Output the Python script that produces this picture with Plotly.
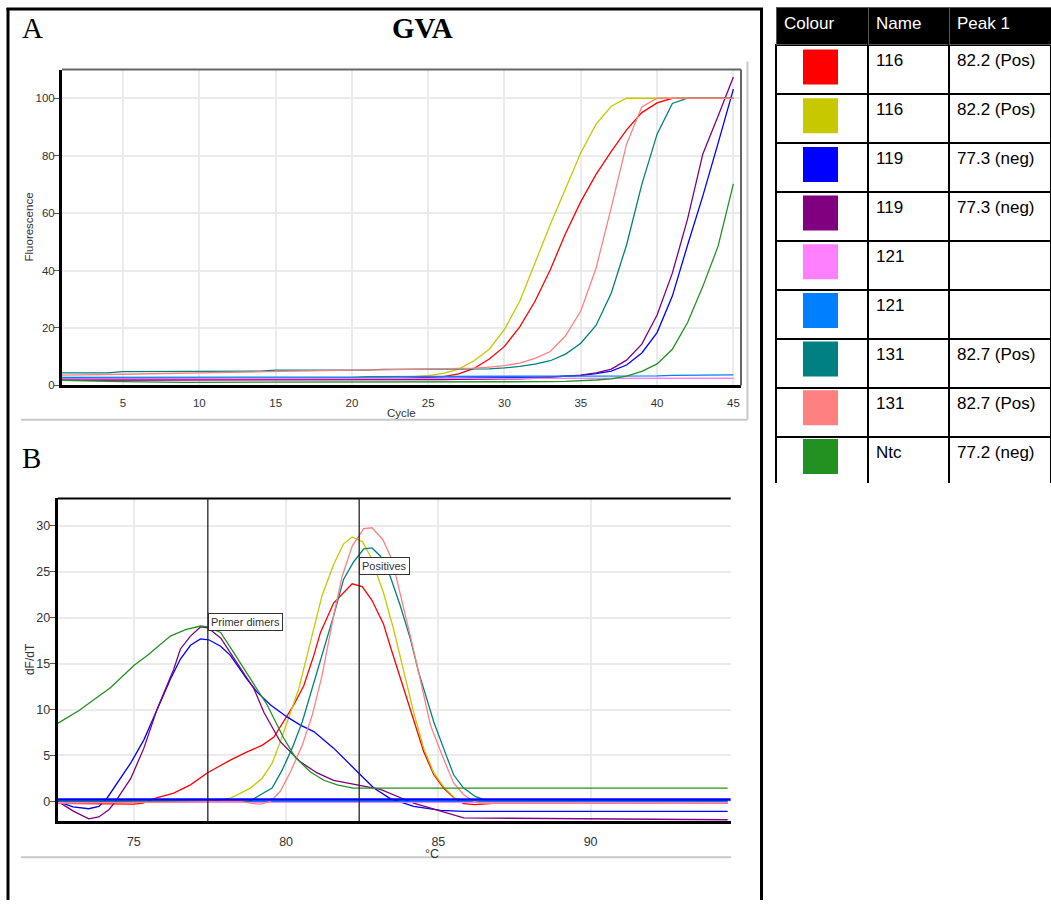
import plotly.graph_objects as go

# ---------------- data ----------------
sample_names = ["116", "116", "119", "119", "121", "121", "131", "131", "Ntc"]
peak_calls = ["82.2 (Pos)", "82.2 (Pos)", "77.3 (neg)", "77.3 (neg)", "", "",
              "82.7 (Pos)", "82.7 (Pos)", "77.2 (neg)"]
colours = ["#ff0000", "#c8c800", "#0000ff", "#800080", "#ff80ff", "#0080ff",
           "#008080", "#ff8080", "#229122"]

cycles = list(range(1, 46))
amp_116_red = [2.1, 2.1, 2.1, 2.1, 2.1, 2.1, 2.1, 2.1, 2.1, 2.1,
               2.2, 2.2, 2.2, 2.2, 2.2, 2.2, 2.2, 2.2, 2.2, 2.2,
               2.3, 2.3, 2.4, 2.5, 2.8, 3.1, 4.0, 5.9, 9.2, 13.6,
               20.4, 29.3, 40.3, 52.9, 64.0, 73.5, 81.5, 89.0, 95.0, 98.4,
               100, 100, 100, 100, 100]
amp_116_yellow = [2.5, 2.5, 2.5, 2.5, 2.5, 2.5, 2.5, 2.5, 2.5, 2.5,
                  2.6, 2.6, 2.6, 2.6, 2.6, 2.6, 2.6, 2.6, 2.6, 2.6,
                  2.7, 2.8, 2.9, 3.1, 3.4, 4.2, 5.7, 8.6, 12.6, 19.5,
                  29.3, 43.0, 56.0, 68.5, 81.0, 91.0, 97.2, 100, 100, 100,
                  100, 100, 100, 100, 100]
amp_119_blue = [2.3, 2.3, 2.3, 2.3, 2.3, 2.3, 2.3, 2.3, 2.3, 2.3,
                2.3, 2.3, 2.3, 2.3, 2.3, 2.3, 2.3, 2.3, 2.3, 2.3,
                2.4, 2.4, 2.4, 2.5, 2.5, 2.5, 2.5, 2.6, 2.6, 2.6,
                2.7, 2.8, 3.0, 3.2, 3.5, 4.1, 5.0, 7.1, 11.3, 18.4,
                31.1, 48.9, 66.0, 84.4, 103.2]
amp_119_purple = [1.8, 1.8, 1.8, 1.8, 1.8, 1.8, 1.8, 1.8, 1.8, 1.8,
                  1.8, 1.8, 1.8, 1.8, 1.8, 1.8, 1.8, 1.8, 1.8, 1.8,
                  1.9, 1.9, 1.9, 2.0, 2.0, 2.0, 2.1, 2.1, 2.2, 2.2,
                  2.3, 2.5, 2.8, 3.1, 3.6, 4.4, 5.7, 8.8, 14.4, 24.5,
                  39.1, 58.0, 80.6, 93.8, 107.4]
amp_121_pink = [2.3, 2.3, 2.3, 2.3, 2.3, 2.3, 2.3, 2.3, 2.3, 2.3,
                2.3, 2.3, 2.3, 2.3, 2.3, 2.4, 2.4, 2.4, 2.4, 2.4,
                2.4, 2.4, 2.4, 2.4, 2.4, 2.4, 2.4, 2.4, 2.4, 2.4,
                2.5, 2.5, 2.5, 2.5, 2.5, 2.5, 2.5, 2.5, 2.5, 2.5,
                2.5, 2.5, 2.5, 2.5, 2.5]
amp_121_lightblue = [2.8, 2.8, 2.8, 2.8, 2.8, 2.8, 2.8, 2.8, 2.8, 2.8,
                     2.9, 2.9, 2.9, 2.9, 2.9, 2.9, 2.9, 2.9, 2.9, 2.9,
                     3.1, 3.1, 3.1, 3.1, 3.1, 3.1, 3.1, 3.1, 3.1, 3.1,
                     3.3, 3.3, 3.3, 3.3, 3.3, 3.3, 3.3, 3.3, 3.3, 3.3,
                     3.5, 3.5, 3.6, 3.6, 3.7]
amp_131_teal = [4.4, 4.4, 4.4, 4.4, 4.8, 4.8, 4.8, 4.8, 5.0, 5.0,
                5.0, 5.0, 5.0, 5.0, 5.3, 5.3, 5.3, 5.3, 5.3, 5.3,
                5.3, 5.6, 5.6, 5.6, 5.6, 5.6, 5.6, 5.6, 5.8, 6.1,
                6.6, 7.4, 8.6, 10.9, 14.7, 20.9, 32.2, 48.9, 70.0, 87.5,
                98.2, 100, 100, 100, 100]
amp_131_salmon = [3.6, 3.6, 3.7, 3.8, 3.9, 4.0, 4.1, 4.2, 4.3, 4.4,
                  4.5, 4.6, 4.7, 4.8, 5.0, 5.1, 5.2, 5.3, 5.3, 5.4,
                  5.4, 5.4, 5.5, 5.5, 5.5, 5.6, 5.8, 6.0, 6.4, 6.9,
                  7.8, 9.4, 11.8, 17.3, 25.9, 40.8, 62.0, 84.0, 97.0, 100,
                  100, 100, 100, 100, 100]
amp_ntc_green = [1.8, 1.6, 1.5, 1.4, 1.3, 1.2, 1.2, 1.1, 1.1, 1.1,
                 1.1, 1.1, 1.1, 1.1, 1.1, 1.1, 1.1, 1.1, 1.1, 1.1,
                 1.1, 1.1, 1.1, 1.1, 1.1, 1.1, 1.1, 1.1, 1.1, 1.2,
                 1.2, 1.2, 1.3, 1.4, 1.6, 1.9, 2.3, 3.2, 4.9, 7.5,
                 12.6, 21.9, 34.5, 48.5, 70.2]
amp_series = [amp_116_red, amp_116_yellow, amp_119_blue, amp_119_purple,
              amp_121_pink, amp_121_lightblue, amp_131_teal, amp_131_salmon,
              amp_ntc_green]

# melt curves: temperature (°C) and dF/dT per sample
melt_116_red_t = [72.5, 75.0, 75.3, 75.77, 76.31, 76.86, 77.41, 78.17, 78.72, 79.21, 79.6,
                  79.92, 80.25, 80.58, 80.91, 81.13, 81.56, 82.17, 82.5, 82.82, 83.2,
                  83.42, 83.73, 84.19, 84.52, 84.85, 85.17, 85.5, 85.83, 86.21, 86.8, 94.5]
melt_116_red_v = [-0.2, -0.3, -0.2, 0.4, 0.9, 1.8, 3.1, 4.5, 5.4, 6.1, 7.0,
                  8.7, 10.5, 12.6, 15.9, 18.4, 21.6, 23.7, 23.4, 21.9, 19.3,
                  16.9, 13.7, 8.7, 5.4, 2.9, 1.45, 0.43, -0.25, -0.36, -0.2, -0.2]
melt_116_yellow_t = [72.5, 77.5, 78.17, 78.83, 79.21, 79.54, 79.81, 80.14, 80.42, 80.69,
                     81.18, 81.56, 81.89, 82.17, 82.5, 82.77, 83.2, 83.53, 83.9, 84.19,
                     84.52, 84.85, 85.17, 85.56, 86.0, 94.5]
melt_116_yellow_v = [0.0, 0.0, 0.36, 1.45, 2.5, 4.15, 6.5, 9.7, 12.3, 15.9,
                     22.4, 25.8, 28.05, 28.8, 28.3, 26.7, 22.7, 18.75, 13.7, 9.7,
                     5.8, 3.1, 1.6, 0.3, 0.0, 0.0]
melt_119_blue_t = [72.5, 73.0, 73.52, 73.85, 74.13, 74.46, 74.9, 75.33, 75.77, 76.2,
                   76.53, 76.86, 77.19, 77.46, 77.85, 78.17, 78.72, 79.05, 79.49, 80.03,
                   80.47, 80.91, 81.56, 82.0, 82.38, 82.88, 83.42, 84.19, 85.07, 85.83, 94.5]
melt_119_blue_v = [0.0, -0.6, -0.8, -0.55, 0.4, 2.0, 4.2, 6.7, 10.0, 13.3,
                   15.5, 17.0, 17.7, 17.6, 16.9, 15.9, 13.3, 11.9, 10.5, 9.2,
                   8.3, 7.6, 5.8, 4.3, 3.1, 1.45, 0.3, -0.54, -0.97, -1.08, -1.08]
melt_119_purple_t = [72.5, 73.03, 73.52, 73.85, 74.18, 74.4, 74.9, 75.33, 75.77, 76.31,
                     76.53, 76.86, 77.19, 77.43, 77.85, 78.28, 78.94, 79.27, 79.81, 80.47,
                     81.02, 81.56, 82.33, 83.1, 84.19, 85.07, 85.83, 94.5]
melt_119_purple_v = [0.0, -1.08, -1.9, -1.7, -0.9, 0.0, 2.5, 5.8, 10.1, 14.4,
                     16.6, 18.0, 19.0, 18.9, 17.8, 15.6, 12.3, 9.7, 6.5, 4.3,
                     3.1, 2.3, 1.8, 1.3, -0.2, -1.1, -1.8, -2.0]
melt_121_pink_t = [72.5, 94.5]
melt_121_pink_v = [-0.1, -0.1]
melt_121_lightblue_t = [72.5, 94.5]
melt_121_lightblue_v = [0.0, 0.0]
melt_131_teal_t = [72.5, 78.8, 79.16, 79.54, 79.87, 80.2, 80.53, 80.86, 81.18, 81.56,
                   81.89, 82.22, 82.55, 82.82, 83.1, 83.42, 83.75, 84.08, 84.35, 84.85,
                   85.17, 85.5, 85.83, 86.21, 86.5, 94.5]
melt_131_teal_v = [0.0, 0.0, 0.72, 1.45, 3.4, 5.8, 8.65, 12.3, 15.9, 20.2,
                   24.2, 26.1, 27.5, 27.6, 26.7, 24.5, 21.3, 17.7, 14.1, 8.65,
                   5.8, 2.9, 1.45, 0.54, 0.2, 0.1]
melt_131_salmon_t = [72.5, 76.0, 78.5, 78.83, 79.16, 79.49, 79.81, 80.14, 80.53, 80.86,
                     81.18, 81.56, 81.84, 82.17, 82.55, 82.82, 83.18, 83.48, 83.75, 84.08,
                     84.35, 84.74, 85.12, 85.5, 85.83, 86.16, 86.4, 94.5]
melt_131_salmon_v = [-0.2, -0.1, 0.0, -0.2, -0.3, 0.0, 1.1, 3.2, 6.1, 9.4,
                     13.7, 20.2, 24.5, 27.8, 29.7, 29.8, 28.5, 26.3, 22.7, 18.0,
                     14.1, 8.3, 5.05, 2.0, 0.72, 0.0, -0.2, -0.2]
melt_ntc_green_t = [72.5, 73.2, 74.24, 75.0, 75.44, 76.2, 76.7, 77.19, 77.43, 77.85,
                    78.28, 78.83, 79.38, 79.92, 80.3, 80.8, 81.24, 81.68, 82.2, 94.5]
melt_ntc_green_v = [8.5, 9.9, 12.4, 14.8, 15.9, 18.0, 18.7, 19.1, 19.0, 18.4,
                    16.2, 13.3, 10.5, 6.9, 4.8, 3.2, 2.3, 1.8, 1.45, 1.45]
melt_series = [(melt_116_red_t, melt_116_red_v), (melt_116_yellow_t, melt_116_yellow_v),
               (melt_119_blue_t, melt_119_blue_v), (melt_119_purple_t, melt_119_purple_v),
               (melt_121_pink_t, melt_121_pink_v), (melt_121_lightblue_t, melt_121_lightblue_v),
               (melt_131_teal_t, melt_131_teal_v), (melt_131_salmon_t, melt_131_salmon_v),
               (melt_ntc_green_t, melt_ntc_green_v)]

marker_labels = ["Primer dimers", "Positives"]
marker_temps = [77.43, 82.4]
marker_label_levels = [20.55, 26.65]
melt_threshold = 0.2

amp_xticks = [5, 10, 15, 20, 25, 30, 35, 40, 45]
amp_yticks = [0, 20, 40, 60, 80, 100]
melt_xticks = [75, 80, 85, 90]
melt_yticks = [0, 5, 10, 15, 20, 25, 30]

for s in amp_series:
    assert len(s) == 45, len(s)
for t, v in melt_series:
    assert len(t) == len(v), (len(t), len(v))

# ---------------- figure ----------------
W, H = 1051, 906
FONT = "Liberation Sans, Arial, sans-serif"
SERIF = "Liberation Serif, Times New Roman, serif"
TXT = "#333333"


def px(x):
    return x / W


def py(y):
    return 1 - y / H


fig = go.Figure()

for col, vals in zip(colours, amp_series):
    fig.add_trace(go.Scatter(x=cycles, y=vals, mode="lines",
                             line=dict(color=col, width=1.3),
                             xaxis="x", yaxis="y", showlegend=False, hoverinfo="skip"))

for col, (t, v) in zip(colours, melt_series):
    fig.add_trace(go.Scatter(x=t, y=v, mode="lines",
                             line=dict(color=col, width=1.3),
                             xaxis="x2", yaxis="y2", showlegend=False, hoverinfo="skip"))

# table
fig.add_trace(go.Table(
    domain=dict(x=[px(776), 1.0], y=[py(487), py(8)]),
    columnwidth=[92, 81, 102],
    header=dict(values=["Colour", "Name", "Peak 1"], fill_color="black",
                line=dict(color="#555555", width=1),
                font=dict(color="white", size=17, family=FONT),
                align="left", height=37),
    cells=dict(values=[["" for _ in sample_names], sample_names, peak_calls],
               fill_color="rgba(0,0,0,0)",
               line=dict(color="black", width=2),
               font=dict(color="black", size=17, family=FONT),
               align="left", height=49),
))

# colour swatches
fig.add_trace(go.Scatter(x=[0 for _ in colours], y=list(range(len(colours))),
                         mode="markers",
                         marker=dict(symbol="square", size=35, color=colours,
                                     line=dict(width=0)),
                         xaxis="x3", yaxis="y3", showlegend=False,
                         hoverinfo="skip", cliponaxis=False))

tickfont_a = dict(family=FONT, size=11.5, color=TXT)
tickfont_b = dict(family=FONT, size=12.5, color=TXT)
grid = "#ebebeb"

fig.update_layout(
    width=W, height=H, autosize=False,
    margin=dict(l=0, r=0, t=0, b=0),
    paper_bgcolor="white", plot_bgcolor="white",
    showlegend=False,
    xaxis=dict(domain=[px(62), px(741)], anchor="y", range=[1, 45.5],
               tickvals=amp_xticks, showgrid=True, gridcolor=grid, gridwidth=1.5,
               zeroline=False, showline=True, linecolor="black", linewidth=3,
               ticks="outside", ticklen=5, tickcolor="rgba(0,0,0,0)",
               tickfont=tickfont_a),
    yaxis=dict(domain=[py(388), py(70)], anchor="x", range=[0, 110],
               tickvals=amp_yticks, showgrid=True, gridcolor=grid, gridwidth=1.5,
               zeroline=False, showline=True, linecolor="black", linewidth=3,
               ticks="outside", ticklen=5, tickcolor="#555555",
               ticklabelstandoff=-3, tickfont=tickfont_a),
    xaxis2=dict(domain=[px(57.7), px(730.7)], anchor="y2", range=[72.5, 94.6],
                tickvals=melt_xticks, showgrid=True, gridcolor=grid, gridwidth=1.5,
                zeroline=False, showline=True, linecolor="black", linewidth=3,
                ticks="outside", ticklen=7, tickcolor="rgba(0,0,0,0)",
                tickfont=tickfont_b),
    yaxis2=dict(domain=[py(826.7), py(501.7)], anchor="x2", range=[-2.16, 33],
                tickvals=melt_yticks, showgrid=True, gridcolor=grid, gridwidth=1.5,
                zeroline=False, showline=True, linecolor="black", linewidth=3,
                ticks="outside", ticklen=5, tickcolor="#555555",
                ticklabelstandoff=-3, tickfont=tickfont_b),
    xaxis3=dict(domain=[px(800.5), px(840.5)], anchor="y3", range=[-1, 1], visible=False),
    yaxis3=dict(domain=[py(484), py(43)], anchor="x3", range=[8.5, -0.5], visible=False),
)

shapes = []
# outer frame
shapes.append(dict(type="line", xref="paper", yref="paper", x0=px(8), x1=px(8),
                   y0=py(8), y1=0, line=dict(color="black", width=3)))
shapes.append(dict(type="line", xref="paper", yref="paper", x0=px(6.5), x1=px(763),
                   y0=py(9), y1=py(9), line=dict(color="black", width=3)))
shapes.append(dict(type="line", xref="paper", yref="paper", x0=px(761.5), x1=px(761.5),
                   y0=py(8), y1=0, line=dict(color="black", width=3)))
# panel A container
shapes.append(dict(type="line", xref="paper", yref="paper", x0=px(21), x1=px(747.5),
                   y0=py(422.5), y1=py(422.5), line=dict(color="#c8c8c8", width=2)))
shapes.append(dict(type="line", xref="paper", yref="paper", x0=px(747.5), x1=px(747.5),
                   y0=py(62), y1=py(422.5), line=dict(color="#c8c8c8", width=2)))
# panel A plot border (top, right)
shapes.append(dict(type="line", xref="x domain", yref="y domain", x0=0, x1=1, y0=1, y1=1,
                   line=dict(color="#666666", width=2)))
shapes.append(dict(type="line", xref="x domain", yref="y domain", x0=1, x1=1, y0=0, y1=1,
                   line=dict(color="#666666", width=2)))
# panel B top border and container
shapes.append(dict(type="line", xref="x2 domain", yref="y2 domain", x0=0, x1=1, y0=1, y1=1,
                   line=dict(color="black", width=2)))
shapes.append(dict(type="line", xref="paper", yref="paper", x0=px(21), x1=px(731),
                   y0=py(863), y1=py(863), line=dict(color="#c8c8c8", width=2)))
# threshold line
shapes.append(dict(type="line", xref="x2 domain", yref="y2", x0=0, x1=1,
                   y0=melt_threshold, y1=melt_threshold,
                   line=dict(color="#0000ff", width=2.5)))
# marker lines
for t in marker_temps:
    shapes.append(dict(type="line", xref="x2", yref="y2 domain", x0=t, x1=t, y0=0, y1=1,
                       line=dict(color="#222222", width=1.3)))
fig.update_layout(shapes=shapes)

ann = []
ann.append(dict(text="A", x=px(32), y=py(28.5), xref="paper", yref="paper",
                showarrow=False, xanchor="center", yanchor="middle",
                font=dict(family=SERIF, size=29, color="black")))
ann.append(dict(text="<b>GVA</b>", x=px(422), y=py(28.5), xref="paper", yref="paper",
                showarrow=False, xanchor="center", yanchor="middle",
                font=dict(family=SERIF, size=29, color="black")))
ann.append(dict(text="B", x=px(31), y=py(461), xref="paper", yref="paper",
                showarrow=False, xanchor="center", yanchor="middle",
                font=dict(family=SERIF, size=29, color="black")))
ann.append(dict(text="Fluorescence", x=px(29), y=py(229), xref="paper", yref="paper",
                showarrow=False, textangle=-90, xanchor="center", yanchor="middle",
                font=dict(family=FONT, size=11.5, color=TXT)))
ann.append(dict(text="Cycle", x=px(401), y=py(416), xref="paper", yref="paper",
                showarrow=False, xanchor="center", yanchor="middle",
                font=dict(family=FONT, size=11.5, color=TXT)))
ann.append(dict(text="dF/dT", x=px(29.5), y=py(664), xref="paper", yref="paper",
                showarrow=False, textangle=-90, xanchor="center", yanchor="middle",
                font=dict(family=FONT, size=12, color=TXT)))
ann.append(dict(text="°C", x=px(431.5), y=py(851), xref="paper", yref="paper",
                showarrow=False, xanchor="center", yanchor="top",
                font=dict(family=FONT, size=12.5, color=TXT)))
for lab, t, lv in zip(marker_labels, marker_temps, marker_label_levels):
    ann.append(dict(text=lab, x=t, y=lv, xref="x2", yref="y2", showarrow=False,
                    xanchor="left", yanchor="top", bgcolor="white",
                    bordercolor="#333333", borderwidth=1, borderpad=2,
                    font=dict(family=FONT, size=11, color=TXT)))
fig.update_layout(annotations=ann)

fig.write_html("out.html")
